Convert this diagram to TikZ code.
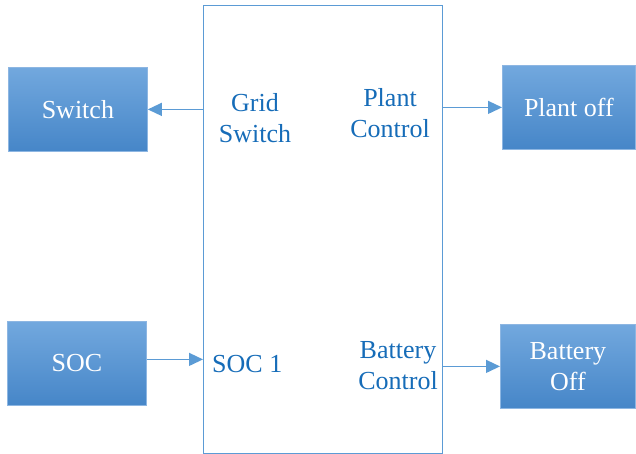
\documentclass[tikz,border=0pt]{standalone}
\usepackage{fontspec}
\setmainfont{Liberation Serif}
\usetikzlibrary{arrows.meta}
\definecolor{boxtop}{HTML}{72A8DE}
\definecolor{boxbot}{HTML}{4686C8}
\definecolor{boxedge}{HTML}{8DB6E2}
\definecolor{linec}{HTML}{5B9BD5}
\definecolor{labc}{RGB}{22,108,184}
\tikzset{
  bluebox/.style={rectangle, anchor=north west, top color=boxtop, bottom color=boxbot,
    draw=boxedge, line width=0.8pt, text=white, align=center, inner sep=0pt,
    font=\fontsize{26}{31}\selectfont},
  lab/.style={text=labc, align=center, inner sep=0pt, font=\fontsize{26}{31}\selectfont},
  conn/.style={draw=linec, line width=1.3pt, -{Triangle[length=14pt,width=13pt]}},
}
\begin{document}
\begin{tikzpicture}[x=1pt,y=-1pt]
\useasboundingbox (0,0) rectangle (636,454);
\node[draw=linec, line width=1pt, anchor=north west, minimum width=239pt, minimum height=448pt, inner sep=0pt] (main) at (203,5) {};
\node[bluebox, minimum width=139pt, minimum height=84pt] (sw) at (8,67) {Switch};
\node[bluebox, minimum width=133pt, minimum height=84pt] (po) at (502,65) {Plant off};
\node[bluebox, minimum width=139pt, minimum height=84pt] (soc) at (7,321) {SOC};
\node[bluebox, minimum width=135pt, minimum height=84pt] (bo) at (500,324) {Battery\\Off};
\node[lab] (gs) at (255,118) {Grid\\Switch};
\node[lab] (pc) at (390,113) {Plant\\Control};
\node[lab, anchor=west] (s1) at (212,364) {SOC 1};
\node[lab] (bc) at (398,366) {Battery\\Control};
\draw[conn] (sw.east -| main.west) -- (sw.east);
\draw[conn] (po.west -| main.east) -- (po.west);
\draw[conn] ([yshift=4pt]soc.east) -- ([yshift=4pt]soc.east -| main.west);
\draw[conn] (bo.west -| main.east) -- (bo.west);
\end{tikzpicture}
\end{document}
